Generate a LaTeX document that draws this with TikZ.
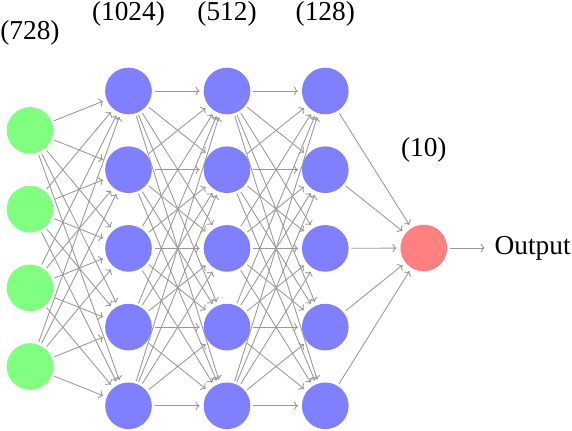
\documentclass[tikz,border=0pt]{standalone}
\usepackage{fontspec}
\setmainfont{Liberation Serif}
\usetikzlibrary{arrows.meta}

\begin{document}
\begin{tikzpicture}[x=0.75pt,y=-0.75pt,
    every node/.style={font=\fontsize{20.5}{24}\selectfont},
    neuron/.style={circle,minimum size=35pt,inner sep=0pt,outer sep=2pt},
    inneuron/.style={neuron,fill=green!50},
    hidneuron/.style={neuron,fill=blue!50},
    outneuron/.style={neuron,fill=red!50},
    link/.style={-{To[length=3pt,width=6.5pt]},black!40,line width=0.65pt,shorten >=1pt}]
    \useasboundingbox (0,0) rectangle (572,430);
    % layers
    \foreach \i in {1,...,4}
    \node[inneuron] (in\i) at (30,51.7+78.7*\i) {};
    \foreach \l/\x in {1/128.5,2/227,3/325.3}
    \foreach \i in {1,...,5}
    \node[hidneuron] (h\l-\i) at (\x,12.3+78.7*\i) {};
    \node[outneuron] (out) at (423.8,248) {};
    \node[anchor=west] (res) at (490,248) {Output};
    % layer sizes
    \node (lab0) at (30,33) {(728)};
    \node (lab1) at (128.5,14) {(1024)};
    \node (lab2) at (227,14) {(512)};
    \node (lab3) at (325.3,14) {(128)};
    \node (lab4) at (423.8,150) {(10)};
    % connections
    \foreach \i in {1,...,4}
    \foreach \j in {1,...,5}
    \draw[link] (in\i) -- (h1-\j);
    \foreach \i in {1,...,5}
    \foreach \j in {1,...,5}
    {
        \draw[link] (h1-\i) -- (h2-\j);
        \draw[link] (h2-\i) -- (h3-\j);
    }
    \foreach \i in {1,...,5}
    \draw[link] (h3-\i) -- (out);
    \draw[link,shorten >=4pt] (out) -- (res);
\end{tikzpicture}
\end{document}
